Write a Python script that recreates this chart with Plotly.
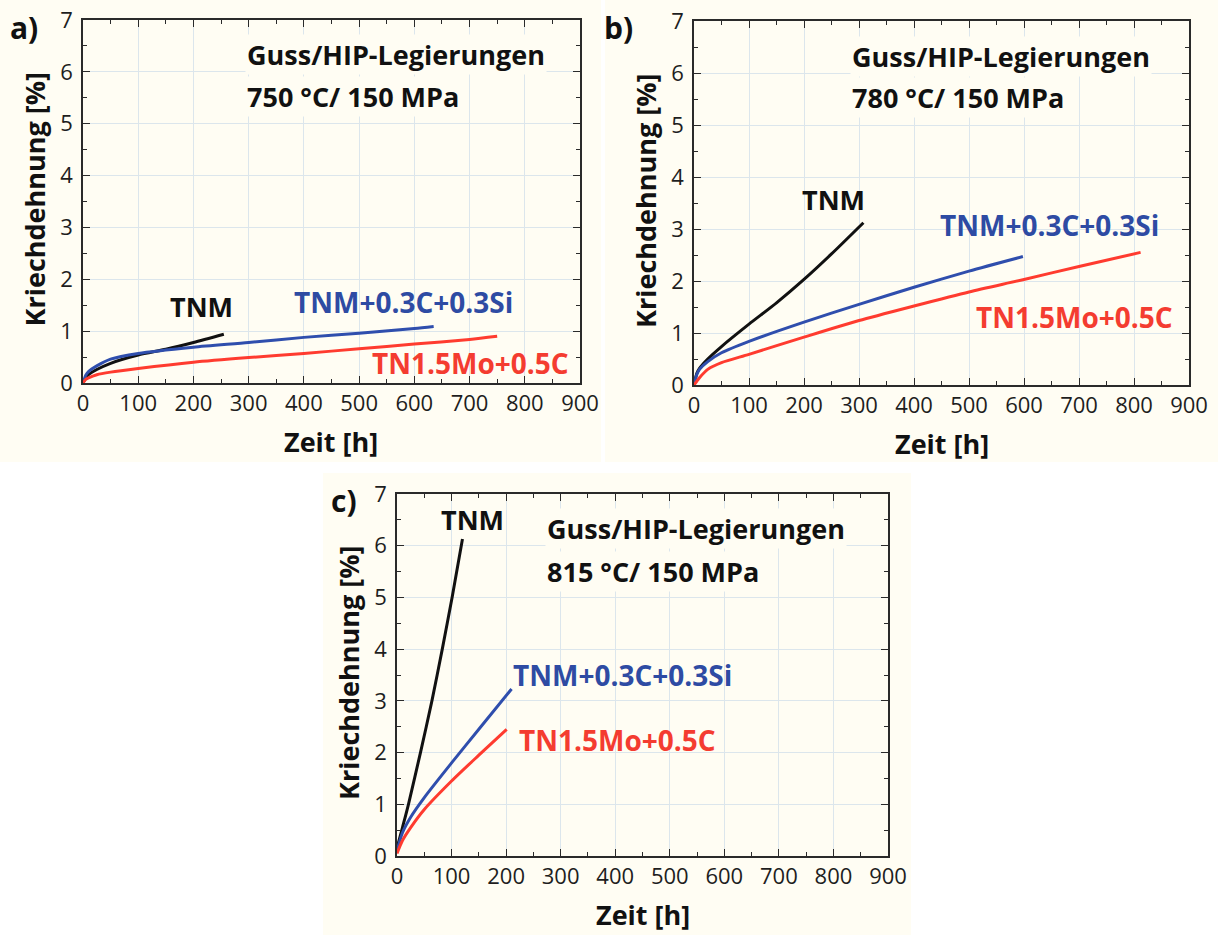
import plotly.graph_objects as go

# ---- creep curves, 750 °C / 150 MPa ----
a_tnm_t = [0, 5, 10, 25, 50, 100, 150, 200, 255]
a_tnm_e = [0, 0.1, 0.16, 0.26, 0.38, 0.54, 0.65, 0.78, 0.94]
a_si_t = [0, 5, 10, 25, 50, 100, 200, 300, 400, 500, 600, 635]
a_si_e = [0, 0.15, 0.22, 0.33, 0.46, 0.57, 0.69, 0.78, 0.88, 0.96, 1.05, 1.09]
a_mo_t = [0, 5, 10, 25, 50, 100, 200, 300, 400, 500, 600, 700, 750]
a_mo_e = [0, 0.07, 0.1, 0.16, 0.21, 0.28, 0.4, 0.49, 0.57, 0.66, 0.75, 0.84, 0.9]

# ---- creep curves, 780 °C / 150 MPa ----
b_tnm_t = [0, 5, 10, 25, 50, 100, 150, 200, 250, 308]
b_tnm_e = [0, 0.22, 0.32, 0.5, 0.74, 1.17, 1.58, 2.03, 2.52, 3.12]
b_si_t = [0, 5, 10, 25, 50, 100, 200, 300, 400, 500, 598]
b_si_e = [0, 0.2, 0.3, 0.45, 0.62, 0.84, 1.21, 1.55, 1.88, 2.19, 2.47]
b_mo_t = [0, 5, 10, 25, 50, 100, 200, 300, 400, 500, 600, 700, 812]
b_mo_e = [0, 0.07, 0.14, 0.3, 0.43, 0.59, 0.92, 1.24, 1.52, 1.79, 2.03, 2.28, 2.55]

# ---- creep curves, 815 °C / 150 MPa ----
c_tnm_t = [0, 10, 21, 43, 64, 83, 101, 120]
c_tnm_e = [0.15, 0.55, 1.0, 2.0, 3.0, 4.0, 5.0, 6.13]
c_si_t = [0, 10, 25, 50, 100, 150, 210]
c_si_e = [0.1, 0.45, 0.75, 1.13, 1.8, 2.45, 3.23]
c_mo_t = [0, 10, 25, 50, 100, 150, 201]
c_mo_e = [0.05, 0.3, 0.55, 0.9, 1.45, 1.95, 2.45]

alloys = ["TNM", "TNM+0.3C+0.3Si", "TN1.5Mo+0.5C"]
conditions = ["750 °C/ 150 MPa", "780 °C/ 150 MPa", "815 °C/ 150 MPa"]
panel_tags = ["a)", "b)", "c)"]

W, H = 1218, 935
CREAM = "#FFFDF3"
GRID = "#DCE6EC"
FRAME = "#2a2a2a"
COLORS = ["#111111", "#2F4EAD", "#FF3B2F"]
LABEL_COLORS = ["#111111", "#2E4BA3", "#F43C30"]
LABEL_SIZES = [27, 28, 28]
FONT = "Open Sans"


def px_x(p):
    return p / W


def px_y(p):
    return 1 - p / H


# plot-area boxes in pixels: (left, right, top, bottom)
boxes = [(83, 580, 20, 383), (694, 1189, 21, 385), (397, 888, 494, 856)]
# cream panel backgrounds in pixels
panels = [(0, 601, 0, 462), (605, 1218, 0, 462), (323, 911, 473, 935)]

series = [
    [(a_tnm_t, a_tnm_e), (a_si_t, a_si_e), (a_mo_t, a_mo_e)],
    [(b_tnm_t, b_tnm_e), (b_si_t, b_si_e), (b_mo_t, b_mo_e)],
    [(c_tnm_t, c_tnm_e), (c_si_t, c_si_e), (c_mo_t, c_mo_e)],
]

# label anchors in data coordinates per panel: (x, y) of centre
alloy_label_pos = [
    [(214, 1.47), (580, 1.56), (701, 0.39)],
    [(253, 3.57), (647, 3.08), (691, 1.3)],
    [(139, 6.5), (414, 3.5), (405, 2.24)],
]
header_pos = [(293, 6.33, 5.52), (284, 6.32, 5.52), (271, 6.34, 5.51)]

fig = go.Figure()
layout = dict(
    width=W, height=H, margin=dict(l=0, r=0, t=0, b=0, pad=0),
    paper_bgcolor="white", plot_bgcolor=CREAM, showlegend=False,
    font=dict(family=FONT, color="#1a1a1a"),
)
shapes = []
annotations = []

for i in range(3):
    xa = "xaxis" if i == 0 else f"xaxis{i + 1}"
    ya = "yaxis" if i == 0 else f"yaxis{i + 1}"
    xr = "x" if i == 0 else f"x{i + 1}"
    yr = "y" if i == 0 else f"y{i + 1}"
    l, r, t, b = boxes[i]

    common = dict(
        showline=True, linecolor=FRAME, linewidth=1.5, mirror="allticks",
        ticks="inside", ticklen=7, tickwidth=1.3, tickcolor=FRAME,
        showgrid=True, gridcolor=GRID, gridwidth=1, zeroline=False,
        tickfont=dict(family=FONT, size=22, color="#1e1e1e"),
        fixedrange=True, automargin=False,
    )
    layout[xa] = dict(
        common, domain=[px_x(l), px_x(r)], range=[0, 900],
        tickmode="linear", tick0=0, dtick=100,
        anchor=yr, ticklabelstandoff=0,
        minor=dict(ticks="inside", ticklen=4, dtick=50, tick0=0,
                   tickcolor=FRAME, tickwidth=1.2, showgrid=False),
    )
    layout[ya] = dict(
        common, domain=[px_y(b), px_y(t)], range=[0, 7],
        tickmode="linear", tick0=0, dtick=1,
        anchor=xr, ticklabelstandoff=4,
        minor=dict(ticks="inside", ticklen=4, dtick=0.5, tick0=0,
                   tickcolor=FRAME, tickwidth=1.2, showgrid=False),
    )

    # cream panel background
    pl, pr, pt, pb = panels[i]
    shapes.append(dict(type="rect", xref="paper", yref="paper", layer="below",
                       x0=px_x(pl), x1=px_x(pr), y0=px_y(pb), y1=px_y(pt),
                       fillcolor=CREAM, line=dict(width=0)))

    for k in range(3):
        t_vals, e_vals = series[i][k]
        fig.add_trace(go.Scatter(
            x=t_vals, y=e_vals, mode="lines", xaxis=xr, yaxis=yr,
            line=dict(color=COLORS[k], width=3, shape="spline", smoothing=0.7),
            hoverinfo="skip",
        ))
        lx, ly = alloy_label_pos[i][k]
        annotations.append(dict(
            x=lx, y=ly, xref=xr, yref=yr, text=alloys[k], showarrow=False,
            font=dict(family=FONT, size=LABEL_SIZES[k], color=LABEL_COLORS[k],
                      weight="bold"),
            xanchor="center", yanchor="middle",
        ))

    hx, hy1, hy2 = header_pos[i]
    annotations.append(dict(
        x=hx, y=hy1, xref=xr, yref=yr, text="Guss/HIP-Legierungen",
        showarrow=False, xanchor="left", yanchor="middle", bgcolor=CREAM,
        font=dict(family=FONT, size=27, color="#111111", weight="bold"),
    ))
    annotations.append(dict(
        x=hx, y=hy2, xref=xr, yref=yr, text=conditions[i],
        showarrow=False, xanchor="left", yanchor="middle", bgcolor=CREAM,
        font=dict(family=FONT, size=27, color="#111111", weight="bold"),
    ))

    # axis titles
    annotations.append(dict(
        x=px_x(l - 49), y=px_y((t + b) / 2 - 2), xref="paper", yref="paper",
        text="Kriechdehnung [%]", textangle=-90, showarrow=False,
        xanchor="center", yanchor="middle",
        font=dict(family=FONT, size=27, color="#111111", weight="bold"),
    ))
    annotations.append(dict(
        x=px_x((l + r) / 2), y=px_y(b + 58), xref="paper", yref="paper",
        text="Zeit [h]", showarrow=False, xanchor="center", yanchor="middle",
        font=dict(family=FONT, size=27, color="#111111", weight="bold"),
    ))

# panel tags
tag_pos = [(24, 27), (618, 28), (344, 500)]
for tag, (tx, ty) in zip(panel_tags, tag_pos):
    annotations.append(dict(
        x=px_x(tx), y=px_y(ty), xref="paper", yref="paper", text=tag,
        showarrow=False, xanchor="center", yanchor="middle",
        font=dict(family=FONT, size=30, color="#111111", weight="bold"),
    ))

layout["shapes"] = shapes
layout["annotations"] = annotations
fig.update_layout(**layout)
fig.write_html("out.html")
